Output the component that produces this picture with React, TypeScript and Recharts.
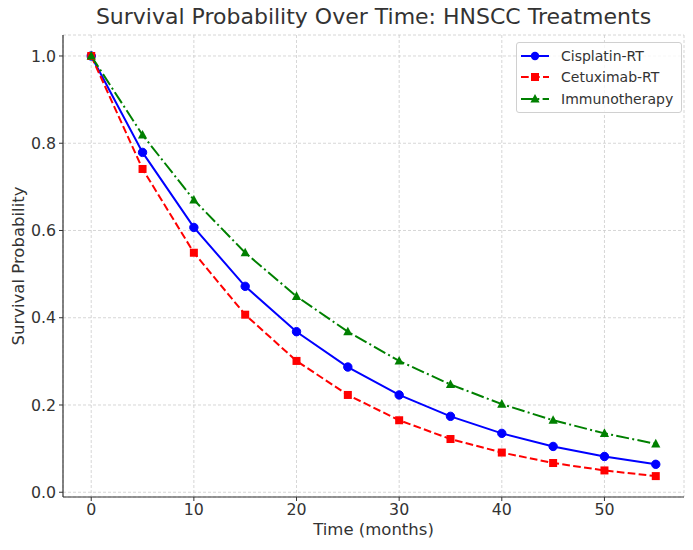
import React from "react";
import { LineChart, Line, XAxis, YAxis, CartesianGrid } from "recharts";

const months = [0, 5, 10, 15, 20, 25, 30, 35, 40, 45, 50, 55];
const cisplatin = [1.0, 0.779, 0.607, 0.472, 0.368, 0.287, 0.223, 0.174, 0.135, 0.105, 0.082, 0.064];
const cetuximab = [1.0, 0.741, 0.549, 0.407, 0.301, 0.223, 0.165, 0.122, 0.091, 0.067, 0.05, 0.037];
const immuno = [1.0, 0.819, 0.67, 0.549, 0.449, 0.368, 0.301, 0.247, 0.202, 0.165, 0.135, 0.111];
const xTicks = [0, 10, 20, 30, 40, 50];
const yTicks = [0, 0.2, 0.4, 0.6, 0.8, 1.0];

const data = months.map((m, i) => ({
  t: m,
  cis: cisplatin[i],
  cet: cetuximab[i],
  imm: immuno[i],
}));

const FONT = "'DejaVu Sans', sans-serif";
const TXT = "#333333";

const CircleDot = (p: any) => {
  const { cx, cy, key } = p;
  if (cx == null || cy == null) return null;
  return <circle key={key} cx={cx} cy={cy} r={4.2} fill="#0000ff" stroke="#0000ff" />;
};
const SquareDot = (p: any) => {
  const { cx, cy, key } = p;
  if (cx == null || cy == null) return null;
  return <rect key={key} x={cx - 4} y={cy - 4} width={8} height={8} fill="#ff0000" />;
};
const TriDot = (p: any) => {
  const { cx, cy, key } = p;
  if (cx == null || cy == null) return null;
  return (
    <polygon
      key={key}
      points={`${cx},${cy - 5} ${cx - 4.6},${cy + 3.6} ${cx + 4.6},${cy + 3.6}`}
      fill="#008000"
    />
  );
};

const legendItems = [
  { name: "Cisplatin-RT", color: "#0000ff", dash: undefined as string | undefined, marker: "circle" },
  { name: "Cetuximab-RT", color: "#ff0000", dash: "7.7 3.3", marker: "square" },
  { name: "Immunotherapy", color: "#008000", dash: "13 3.3 2 3.3", marker: "tri" },
];

const LegendBox = () => (
  <div
    style={{
      position: "absolute",
      left: 516,
      top: 42,
      width: 166,
      boxSizing: "border-box",
      border: "1px solid #d0d0d0",
      borderRadius: 3,
      background: "rgba(255,255,255,0.8)",
      padding: "2px 4px 2px 3px",
      fontFamily: FONT,
      fontSize: 14,
      color: TXT,
    }}
  >
    {legendItems.map((it) => (
      <div key={it.name} style={{ display: "flex", alignItems: "center", height: 21.5 }}>
        <svg width={34} height={12} style={{ marginRight: 7 }}>
          <line x1={1} y1={6} x2={29} y2={6} stroke={it.color} strokeWidth={2} strokeDasharray={it.dash} />
          {it.marker === "circle" && <circle cx={15} cy={6} r={4.2} fill={it.color} />}
          {it.marker === "square" && <rect x={11} y={2} width={8} height={8} fill={it.color} />}
          {it.marker === "tri" && <polygon points="15,1 10.4,9.6 19.6,9.6" fill={it.color} />}
        </svg>
        <span>{it.name}</span>
      </div>
    ))}
  </div>
);

export default function App() {
  return (
    <div style={{ position: "absolute", left: 0, top: 0, width: 693, height: 550, background: "#fff" }}>
      <LineChart
        width={693}
        height={550}
        data={data}
        margin={{ top: 35, right: 9, bottom: 0, left: 0 }}
        style={{ position: "absolute", left: 0, top: 0 }}
      >
        <CartesianGrid stroke="#cccccc" strokeDasharray="3 2" strokeWidth={0.8} />
        <XAxis
          dataKey="t"
          type="number"
          domain={[-2.75, 57.75]}
          ticks={xTicks}
          height={53}
          tickSize={4}
          tickMargin={3}
          axisLine={{ stroke: "#333333", strokeWidth: 1.2 }}
          tickLine={{ stroke: "#333333" }}
          tick={{ fill: TXT, fontSize: 15.8, fontFamily: FONT }}
          allowDataOverflow
        />
        <YAxis
          type="number"
          domain={[-0.0109, 1.0481]}
          ticks={yTicks}
          width={63}
          tickSize={4}
          tickMargin={3}
          tickFormatter={(v: number) => v.toFixed(1)}
          axisLine={{ stroke: "#333333", strokeWidth: 1.2 }}
          tickLine={{ stroke: "#333333" }}
          tick={{ fill: TXT, fontSize: 15.8, fontFamily: FONT }}
          allowDataOverflow
        />
        <Line
          dataKey="cis"
          name="Cisplatin-RT"
          stroke="#0000ff"
          strokeWidth={2}
          dot={CircleDot}
          activeDot={false}
          isAnimationActive={false}
        />
        <Line
          dataKey="cet"
          name="Cetuximab-RT"
          stroke="#ff0000"
          strokeWidth={2}
          strokeDasharray="7.7 3.3"
          dot={SquareDot}
          activeDot={false}
          isAnimationActive={false}
        />
        <Line
          dataKey="imm"
          name="Immunotherapy"
          stroke="#008000"
          strokeWidth={2}
          strokeDasharray="13 3.3 2 3.3"
          dot={TriDot}
          activeDot={false}
          isAnimationActive={false}
        />
      </LineChart>
      <div
        style={{
          position: "absolute",
          left: 63,
          width: 621,
          top: 4,
          textAlign: "center",
          fontFamily: FONT,
          fontSize: 22,
          color: TXT,
        }}
      >
        Survival Probability Over Time: HNSCC Treatments
      </div>
      <div
        style={{
          position: "absolute",
          left: 63,
          width: 621,
          top: 520,
          textAlign: "center",
          fontFamily: FONT,
          fontSize: 16.5,
          color: TXT,
        }}
      >
        Time (months)
      </div>
      <div
        style={{
          position: "absolute",
          left: 18,
          top: 266,
          transform: "translate(-50%, -50%) rotate(-90deg)",
          whiteSpace: "nowrap",
          fontFamily: FONT,
          fontSize: 16.5,
          color: TXT,
        }}
      >
        Survival Probability
      </div>
      <LegendBox />
    </div>
  );
}
